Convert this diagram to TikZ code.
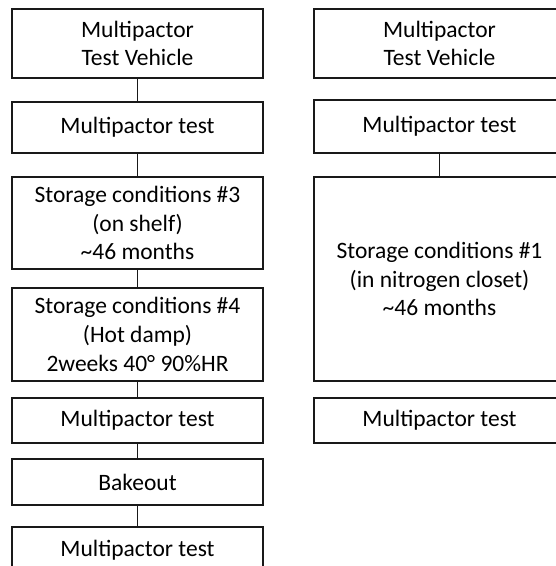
\documentclass[tikz,border=0pt]{standalone}
\usepackage{fontspec}
\setmainfont{Carlito}
\begin{document}
\begin{tikzpicture}[x=1pt,y=-1pt,
  box/.style={draw=black!90, line width=1.2pt, rectangle, inner sep=0pt,
    minimum width=251pt, align=center,
    font=\fontsize{23.5}{28.7}\selectfont},
  link/.style={draw=black!90, line width=1.2pt}]
\clip (0,0) rectangle (556,566);
% left column
\node[box, minimum height=69pt] (L1) at (137.5,43.5) {Multipactor\\Test Vehicle};
\node[box, minimum height=51pt] (L2) at (137.5,127.5) {Multipactor test};
\node[box, minimum height=92pt] (L3) at (137.5,223) {Storage conditions \#3\\(on shelf)\\\textasciitilde 46 months};
\node[box, minimum height=93pt] (L4) at (137.5,334.5) {Storage conditions \#4\\(Hot damp)\\2weeks 40° 90\%HR};
\node[box, minimum height=45pt] (L5) at (137.5,420.5) {Multipactor test};
\node[box, minimum height=46pt] (L6) at (137.5,482) {Bakeout};
\node[box, minimum height=46pt] (L7) at (137.5,550) {Multipactor test};
% right column
\node[box, minimum height=69pt] (R1) at (439.5,43.5) {Multipactor\\Test Vehicle};
\node[box, minimum height=53pt] (R2) at (439.5,126.5) {Multipactor test};
\node[box, minimum height=204pt] (R3) at (439.5,279) {Storage conditions \#1\\(in nitrogen closet)\\\textasciitilde 46 months};
\node[box, minimum height=45pt] (R4) at (439.5,420.5) {Multipactor test};
% connectors
\draw[link] (L1) -- (L2);
\draw[link] (L2) -- (L3);
\draw[link] (L3) -- (L4);
\draw[link] (L4) -- (L5);
\draw[link] (L5) -- (L6);
\draw[link] (L6) -- (L7);
\draw[link] (R2) -- (R3);
\end{tikzpicture}
\end{document}
